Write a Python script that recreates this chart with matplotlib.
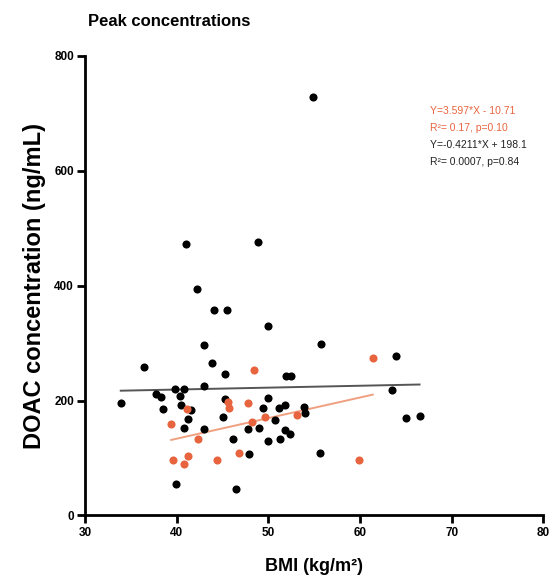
import numpy as np
import matplotlib
matplotlib.use("Agg")
import matplotlib.pyplot as plt

plt.rcParams['font.family'] = ['Liberation Sans', 'DejaVu Sans']

# Black group (BMI, concentration)
black_bmi = [33.9, 37.8, 38.3, 39.8, 40.8, 43.0, 40.4, 38.5, 40.5, 41.6, 45.3, 41.2, 40.8,
             43.0, 45.1, 46.1, 39.9, 46.5, 47.8, 49.0, 50.0, 49.4, 51.2, 51.8, 53.9, 54.0,
             50.7, 50.0, 51.3, 51.8, 52.4, 47.9, 55.6, 63.9, 63.5, 65.0, 66.5, 54.9, 41.0,
             48.9, 42.2, 44.1, 45.5, 50.0, 55.8, 43.0, 36.4, 43.85, 45.3, 51.9, 52.5]
black_conc = [196, 212, 207, 220, 220, 225, 208, 185, 192, 183, 203, 168, 153,
              151, 172, 133, 54, 46, 150, 152, 205, 187, 187, 192, 188, 179,
              167, 130, 133, 148, 142, 107, 109, 278, 218, 169, 174, 728, 473,
              476, 394, 358, 358, 330, 299, 296, 259, 265, 246, 242, 242]

# Orange group
orange_bmi = [41.1, 45.6, 45.7, 39.4, 42.3, 46.8, 39.6, 41.2, 40.8, 44.4, 61.4, 48.4,
              47.8, 49.6, 53.1, 48.2, 59.9]
orange_conc = [185, 198, 187, 159, 134, 108, 96, 104, 89, 97, 274, 253,
               196, 172, 175, 162, 97]

x_ticks = [30, 40, 50, 60, 70, 80]
y_ticks = [0, 200, 400, 600, 800]

orange_eq = ["Y=3.597*X - 10.71", "R²= 0.17, p=0.10"]
black_eq = ["Y=-0.4211*X + 198.1", "R²= 0.0007, p=0.84"]

ORANGE = '#e8643f'

fig = plt.figure(figsize=(5.57, 5.82), dpi=100)
ax = fig.add_axes([0.1526, 0.1143, 0.8228, 0.7895])

ax.scatter(black_bmi, black_conc, s=34, color='black', zorder=3, linewidths=0)
ax.scatter(orange_bmi, orange_conc, s=34, color=ORANGE, zorder=3, linewidths=0)

# regression lines
bx = np.array(black_bmi); by = np.array(black_conc)
kb = np.polyfit(bx, by, 1)
xs = np.array([bx.min(), bx.max()])
ax.plot(xs, np.polyval(kb, xs), color='#555555', lw=1.4, zorder=2)

ox = np.array(orange_bmi); oy = np.array(orange_conc)
ko = np.polyfit(ox, oy, 1)
xs2 = np.array([ox.min(), ox.max()])
ax.plot(xs2, np.polyval(ko, xs2), color='#f0a080', lw=1.4, zorder=2)

ax.set_xlim(30, 80)
ax.set_ylim(0, 800)
ax.set_xticks(x_ticks)
ax.set_yticks(y_ticks)
for lab in ax.get_xticklabels() + ax.get_yticklabels():
    lab.set_fontweight('bold')
ax.tick_params(axis='both', direction='out', length=6, width=2, labelsize=8.5, pad=2)
for s in ['top', 'right']:
    ax.spines[s].set_visible(False)
for s in ['left', 'bottom']:
    ax.spines[s].set_linewidth(2)

ax.set_xlabel("BMI (kg/m²)", fontsize=13, fontweight='bold', labelpad=14)
ax.set_ylabel("DOAC concentration (ng/mL)", fontsize=17, fontweight='bold', labelpad=6)

fig.text(88 / 557, 1 - 22 / 582, "Peak concentrations", fontsize=12, fontweight='bold',
         ha='left', va='center')

ys = [111, 128, 145, 162]
lines = orange_eq + black_eq
cols = [ORANGE, ORANGE, '#222222', '#222222']
for yy, t, c in zip(ys, lines, cols):
    fig.text(430 / 557, 1 - yy / 582, t, fontsize=7.5, color=c, ha='left', va='center')

fig.savefig("out.png", dpi=100)
